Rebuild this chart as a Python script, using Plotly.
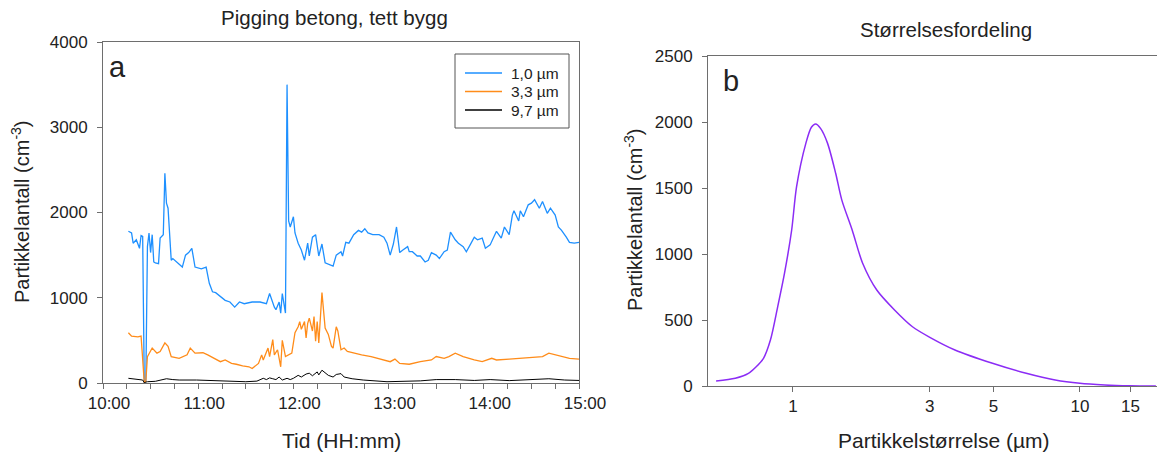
import pandas as pd
import plotly.graph_objects as go

W, H = 1157, 459

# ---- Panel a: particle counts over time (cm^-3) ----
t_10 = ["10:16", "10:18", "10:19", "10:21", "10:23", "10:24", "10:25", "10:26", "10:27", "10:28",
        "10:29", "10:30", "10:31", "10:32", "10:33", "10:35", "10:36", "10:38", "10:39", "10:40",
        "10:41", "10:43", "10:44", "10:47", "10:50", "10:52", "10:54", "10:56", "10:58", "11:02",
        "11:04", "11:05", "11:07", "11:09", "11:11", "11:14", "11:17", "11:20", "11:23", "11:26",
        "11:29", "11:34", "11:39", "11:43", "11:45", "11:48", "11:49", "11:51", "11:52", "11:53",
        "11:55", "11:56", "11:57", "11:58", "12:00", "12:01", "12:03", "12:05", "12:07", "12:09",
        "12:10", "12:12", "12:14", "12:16", "12:18", "12:20", "12:22", "12:25", "12:27", "12:30",
        "12:31", "12:33", "12:35", "12:38", "12:41", "12:43", "12:45", "12:47", "12:50", "12:54",
        "12:57", "12:59", "13:01", "13:03", "13:05", "13:07", "13:09", "13:12", "13:13", "13:15",
        "13:18", "13:20", "13:23", "13:25", "13:27", "13:30", "13:32", "13:35", "13:37", "13:39",
        "13:42", "13:44", "13:47", "13:49", "13:52", "13:54", "13:56", "13:59", "14:01", "14:04",
        "14:06", "14:08", "14:11", "14:13", "14:16", "14:18", "14:19", "14:22", "14:23", "14:25",
        "14:28", "14:30", "14:32", "14:35", "14:37", "14:40", "14:42", "14:45", "14:47", "14:49",
        "14:52", "14:54", "14:57", "15:00"]
n_10 = [1780, 1760, 1640, 1680, 1580, 1730, 1720, 10, 20, 1600,
        1760, 1530, 1740, 1420, 1410, 1400, 1700, 1740, 2460, 2110,
        2050, 1440, 1460, 1410, 1360, 1500, 1530, 1580, 1360, 1340,
        1360, 1360, 1170, 1070, 1060, 1010, 970, 950, 890, 950,
        930, 950, 950, 930, 1050, 890, 860, 950, 820, 1050,
        820, 3500, 1900, 1830, 1950, 1760, 1640, 1560, 1440, 1640,
        1490, 1710, 1740, 1490, 1630, 1410, 1390, 1370, 1500, 1540,
        1490, 1650, 1640, 1740, 1790, 1770, 1810, 1760, 1740, 1740,
        1710, 1640, 1500, 1630, 1830, 1530, 1560, 1600, 1540, 1540,
        1490, 1490, 1420, 1440, 1530, 1500, 1460, 1540, 1560, 1770,
        1680, 1640, 1600, 1540, 1640, 1710, 1680, 1700, 1580, 1620,
        1700, 1780, 1700, 1830, 1740, 1970, 2020, 1900, 2020, 1950,
        2090, 2110, 2150, 2050, 2130, 1990, 2050, 1970, 1830, 1790,
        1710, 1650, 1640, 1650]

t_33 = ["10:16", "10:18", "10:22", "10:24", "10:26", "10:27", "10:28", "10:30", "10:31", "10:34",
        "10:36", "10:39", "10:41", "10:43", "10:48", "10:53", "10:55", "10:58", "11:03", "11:06",
        "11:10", "11:14", "11:17", "11:21", "11:24", "11:28", "11:32", "11:34", "11:38", "11:40",
        "11:41", "11:44", "11:45", "11:47", "11:48", "11:50", "11:52", "11:53", "11:55", "11:57",
        "11:59", "12:01", "12:03", "12:04", "12:05", "12:07", "12:08", "12:09", "12:10", "12:12",
        "12:13", "12:14", "12:15", "12:16", "12:18", "12:20", "12:22", "12:24", "12:25", "12:27",
        "12:28", "12:30", "12:32", "12:34", "12:38", "12:43", "12:49", "12:56", "13:01", "13:04",
        "13:07", "13:13", "13:20", "13:27", "13:30", "13:35", "13:38", "13:42", "13:47", "13:54",
        "13:59", "14:05", "14:08", "14:16", "14:23", "14:32", "14:37", "14:41", "14:45", "14:49",
        "14:54", "15:00"]
n_33 = [590, 550, 540, 550, 10, 20, 310, 390, 410, 350,
        370, 470, 430, 310, 290, 330, 410, 350, 355, 330,
        290, 250, 270, 230, 220, 200, 190, 170, 230, 330,
        270, 410, 310, 510, 330, 390, 190, 500, 310, 330,
        350, 590, 660, 720, 630, 720, 530, 700, 760, 610,
        780, 490, 720, 470, 1060, 645, 570, 430, 410, 660,
        610, 390, 410, 370, 350, 330, 310, 280, 250, 280,
        230, 220, 250, 270, 310, 290, 310, 350, 310, 270,
        250, 290, 270, 280, 290, 300, 310, 350, 330, 310,
        290, 280]

t_97 = ["10:16", "10:25", "10:26", "10:28", "10:33", "10:38", "10:40", "10:44", "10:48", "10:59",
        "11:07", "11:16", "11:30", "11:37", "11:41", "11:43", "11:45", "11:47", "11:49", "11:51",
        "11:53", "11:56", "11:58", "12:00", "12:03", "12:05", "12:08", "12:10", "12:12", "12:15",
        "12:16", "12:18", "12:20", "12:22", "12:25", "12:27", "12:30", "12:32", "12:37", "12:44",
        "12:59", "13:07", "13:20", "13:30", "13:42", "13:54", "14:04", "14:16", "14:29", "14:41",
        "14:51", "15:00"]
n_97 = [55, 35, 5, 15, 20, 45, 50, 40, 35, 35,
        28, 22, 15, 22, 55, 40, 60, 50, 40, 70,
        35, 55, 40, 55, 90, 70, 105, 115, 85, 130,
        95, 150, 115, 90, 70, 100, 110, 70, 50, 35,
        15, 20, 25, 40, 40, 30, 40, 28, 35, 50,
        35, 30]

series_names = ["1,0 µm", "3,3 µm", "9,7 µm"]
series_colors = ["#1E90FF", "#FF8C1A", "#000000"]
series_widths = [1.3, 1.3, 1.0]

# ---- Panel b: size distribution ----
size_um = [0.54, 0.63, 0.70, 0.745, 0.79, 0.835, 0.885, 0.935, 0.99, 1.03,
           1.11, 1.16, 1.20, 1.25, 1.32, 1.41, 1.48, 1.61, 1.75, 1.96,
           2.26, 2.61, 3.0, 3.67, 4.96, 6.5, 8.2, 10.0, 12.2, 14.9, 18.4]
size_count = [38, 58, 96, 146, 210, 348, 600, 855, 1180, 1510,
              1840, 1960, 1985, 1950, 1840, 1610, 1410, 1180, 930, 727,
              576, 449, 369, 273, 172, 96, 45, 20, 8, 2, 0]
size_ticks = [1, 3, 5, 10, 15]

DAY = "2024-01-01 "


def to_dt(times):
    return pd.to_datetime([DAY + t for t in times])


FONT = "Liberation Sans"
TXT = "#222222"
AXC = "#6e6e6e"

fig = go.Figure()
for times, vals, name, col, lw in zip([t_10, t_33, t_97], [n_10, n_33, n_97],
                                      series_names, series_colors, series_widths):
    fig.add_trace(go.Scatter(x=to_dt(times), y=vals, mode="lines", name=name, showlegend=False,
                             line=dict(color=col, width=lw), xaxis="x", yaxis="y"))

fig.add_trace(go.Scatter(x=size_um, y=size_count, mode="lines", showlegend=False,
                         line=dict(color="#8B2CF5", width=1.5, shape="spline", smoothing=0.8),
                         xaxis="x2", yaxis="y2"))


def px_x(p):
    return p / W


def px_y(p):
    return 1 - p / H


tickfont = dict(family=FONT, size=17, color=TXT)
common = dict(showgrid=False, zeroline=False, automargin=False, tickfont=tickfont,
              ticks="outside", ticklen=5, tickcolor=AXC, tickwidth=1,
              showline=True, linecolor=AXC, linewidth=1)

fig.update_layout(
    width=W, height=H,
    margin=dict(l=0, r=0, t=0, b=0, autoexpand=False),
    paper_bgcolor="white", plot_bgcolor="white",
    font=dict(family=FONT, color=TXT),
    showlegend=False,
    xaxis=dict(domain=[px_x(103), px_x(579)], type="date",
               range=[DAY + "10:00", DAY + "15:00"],
               tickformat="%H:%M", dtick=3600000, tick0=DAY + "10:00",
               ticklabelshift=6,
               minor=dict(dtick=900000, ticks="outside", ticklen=5, tickcolor=AXC),
               mirror=True, anchor="y", **common),
    yaxis=dict(domain=[px_y(383), px_y(42)], range=[0, 4000], dtick=1000,
               ticklabelstandoff=6, mirror=True, anchor="x", **common),
    xaxis2=dict(domain=[px_x(708), 1.0], type="log",
                range=[-0.2958, 1.2687],
                tickvals=size_ticks, ticktext=[str(v) for v in size_ticks],
                mirror=True, anchor="y2", **common),
    yaxis2=dict(domain=[px_y(386), px_y(56)], range=[0, 2500], dtick=500,
                ticklabelstandoff=6, mirror=False, anchor="x2", **common),
)


def label(text, x, y, size, angle=0, xanchor="center"):
    fig.add_annotation(text=text, x=px_x(x), y=px_y(y), xref="paper", yref="paper",
                       showarrow=False, textangle=angle, xanchor=xanchor, yanchor="middle",
                       font=dict(family=FONT, size=size, color=TXT))


label("Pigging betong, tett bygg", 334, 18, 20.5)
label("Størrelsesfordeling", 946, 30, 20.5)
label("Tid (HH:mm)", 341, 440, 21)
label("Partikkelstørrelse (µm)", 944, 440, 21)
label("Partikkelantall (cm<sup>-3</sup>)", 20, 212, 20, -90)
label("Partikkelantall (cm<sup>-3</sup>)", 633, 220, 20, -90)
label("a", 117, 67, 29)
label("b", 731, 81, 29)

# Legend box for panel a
fig.add_shape(type="rect", xref="paper", yref="paper",
              x0=px_x(455), x1=px_x(569), y0=px_y(128), y1=px_y(54),
              line=dict(color="#555555", width=1), fillcolor="white")
for i, (name, col) in enumerate(zip(series_names, series_colors)):
    yy = 73 + i * 18.5
    fig.add_shape(type="line", xref="paper", yref="paper",
                  x0=px_x(465), x1=px_x(502), y0=px_y(yy), y1=px_y(yy),
                  line=dict(color=col, width=1.5))
    label(name, 509, yy, 15.5, xanchor="left")

fig.write_html("out.html")
